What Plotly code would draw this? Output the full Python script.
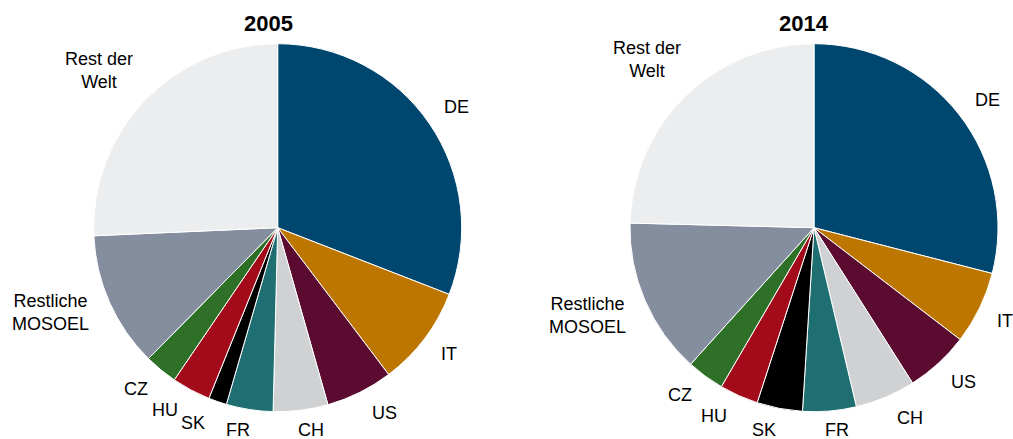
import math
import plotly.graph_objects as go

# ---- data ----
labels = ["DE", "IT", "US", "CH", "FR", "SK", "HU", "CZ", "Restliche<br>MOSOEL", "Rest der<br>Welt"]
values_2005 = [30.9, 8.8, 5.9, 4.8, 4.1, 1.6, 3.4, 2.9, 11.9, 25.7]
values_2014 = [29.0, 6.4, 5.6, 5.3, 4.7, 4.0, 3.4, 3.3, 13.7, 24.6]
years = ["2005", "2014"]
colors = ["#00476f", "#bd7700", "#5b0b30", "#d0d1d3", "#1e6e72", "#000000",
          "#a30b1b", "#2f7029", "#848e9f", "#ecedef"]

# ---- layout config ----
W, H = 1013, 439
R = 184.0
centers = [(277.7, 227.7), (814.0, 227.7)]
title_x = [268, 804]
# small angular nudges (degrees) of the outside labels, as the original layout spreads them
label_nudge = [
    [0.3, -0.8, -3.5, -2.0, 2.0, 4.5, 3.6, 1.9, 3.4, -2.3],
    [1.5, 0.0, -1.5, -4.0, -1.4, 2.9, 3.8, 2.4, 2.0, -0.5],
]
FONT = "Liberation Sans, Arial, sans-serif"
FS = 18

def text_width(s, fs):
    w = 0.0
    for ch in s:
        if ch in "iltjf I":
            w += 0.28
        elif ch == "M":
            w += 0.83
        elif ch.isupper():
            w += 0.70
        else:
            w += 0.53
    return w * fs

fig = go.Figure()
annotations = []
for idx, (vals, yr) in enumerate(zip([values_2005, values_2014], years)):
    cx, cy = centers[idx]
    fig.add_trace(go.Pie(
        labels=labels, values=vals, sort=False, direction="clockwise", rotation=0,
        marker=dict(colors=colors, line=dict(color="white", width=1)),
        textinfo="none", hoverinfo="label+value", showlegend=False,
        domain=dict(x=[(cx - R) / W, (cx + R) / W], y=[1 - (cy + R) / H, 1 - (cy - R) / H]),
    ))
    total = sum(vals)
    cum = 0.0
    for k, (lab, v) in enumerate(zip(labels, vals)):
        mid = (cum + v / 2) / total * 2 * math.pi + math.radians(label_nudge[idx][k])
        cum += v
        lines = lab.split("<br>")
        w = max(text_width(l, 17) for l in lines)
        hh = 6 + (len(lines) - 1) * 10
        s, c = math.sin(mid), math.cos(mid)
        d = R * 1.1 + abs(s) * w / 2 + abs(c) * hh
        px = cx + d * s
        py = cy - d * c
        py = min(py, H - 9)
        annotations.append(dict(
            x=px / W, y=1 - py / H, xref="paper", yref="paper", text=lab,
            showarrow=False, xanchor="center", yanchor="middle", align="center",
            font=dict(family=FONT, size=FS, color="#000000"),
        ))
    annotations.append(dict(
        x=title_x[idx] / W, y=1 - 23.5 / H, xref="paper", yref="paper",
        text="<b>" + yr + "</b>", showarrow=False, xanchor="center", yanchor="middle",
        font=dict(family=FONT, size=22, color="#000000"),
    ))

fig.update_layout(
    width=W, height=H, margin=dict(l=0, r=0, t=0, b=0),
    paper_bgcolor="white", plot_bgcolor="white",
    annotations=annotations, font=dict(family=FONT),
)
fig.write_html("out.html", config={"displayModeBar": False},
               post_script="document.body.style.margin='0px';document.body.style.overflow='hidden';")
